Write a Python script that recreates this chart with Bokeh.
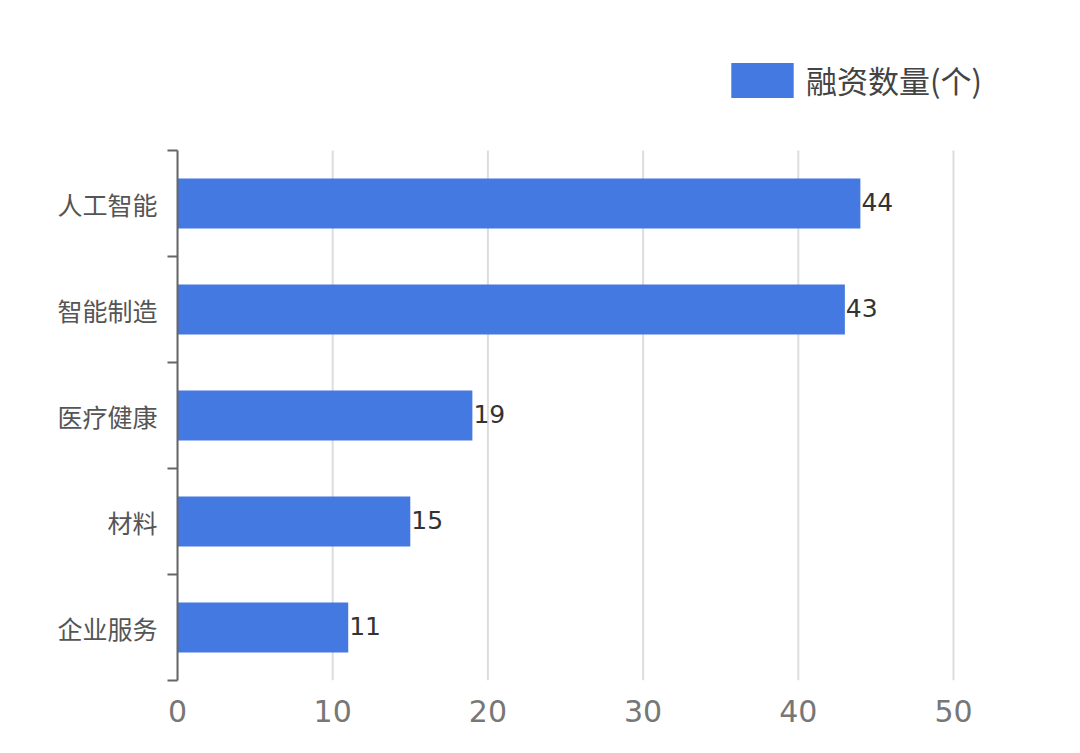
from bokeh.plotting import figure
from bokeh.models import ColumnDataSource, Range1d, FixedTicker, Legend, LegendItem, LabelSet
from bokeh.core.properties import value
from bokeh.embed import file_html
from bokeh.resources import INLINE

categories = ["人工智能", "智能制造", "医疗健康", "材料", "企业服务"]
values = [44, 43, 19, 15, 11]
x_ticks = [0, 10, 20, 30, 40, 50]
series_name = "融资数量(个)"

BAR = "#4479E1"
CJK = "Noto Sans CJK SC"
NUM = "DejaVu Sans"

W, H = 1064, 737
LEFT, TOP, BOTTOM = 177, 44, 57
AXIS_RIGHT_PX = 953          # pixel where x = 50 sits
FRAME_RIGHT_PX = 1050        # frame extended so the legend is not clipped

n = len(categories)
centers = [i + 0.5 for i in range(n)]
bounds = [float(i) for i in range(n + 1)]
x_max = x_ticks[-1]
x_end = x_max * (FRAME_RIGHT_PX - LEFT) / (AXIS_RIGHT_PX - LEFT)

src = ColumnDataSource(dict(cat=categories, y=centers, v=values,
                            lbl=[str(v) for v in values]))
grid_src = ColumnDataSource(dict(x=x_ticks, y0=[0] * len(x_ticks), y1=[n] * len(x_ticks)))

p = figure(width=W, height=H, output_backend="svg", toolbar_location=None,
           x_range=Range1d(0, x_end), y_range=Range1d(n, -1),
           min_border_left=LEFT, min_border_right=W - FRAME_RIGHT_PX,
           min_border_top=TOP, min_border_bottom=BOTTOM)
p.outline_line_color = None
p.background_fill_color = "white"
p.border_fill_color = "white"
p.xgrid.grid_line_color = None
p.ygrid.grid_line_color = None

# vertical grid lines limited to the category band
p.segment(x0="x", x1="x", y0="y0", y1="y1", source=grid_src,
          line_color="#dddddd", line_width=2)

r = p.hbar(y="y", right="v", left=0, height=0.47, source=src,
           fill_color=BAR, line_color=None)

labels = LabelSet(x="v", y="y", text="lbl", source=src, x_offset=1, y_offset=2,
                  text_baseline="middle", text_align="left",
                  text_font_size="25px", text_color="#333333", text_font=value(NUM))
p.add_layout(labels)

# x axis
p.xaxis.ticker = FixedTicker(ticks=x_ticks)
p.xaxis.axis_line_color = None
p.xaxis.major_tick_line_color = None
p.xaxis.minor_tick_line_color = None
p.xaxis.major_label_text_font_size = "30px"
p.xaxis.major_label_text_color = "#777777"
p.xaxis.major_label_text_font = NUM
p.xaxis.major_label_standoff = 13

# y axis
p.yaxis.bounds = (0, n)
p.yaxis.ticker = FixedTicker(ticks=centers, minor_ticks=bounds)
p.yaxis.major_label_overrides = {c: categories[i] for i, c in enumerate(centers)}
p.yaxis.axis_line_color = "#666666"
p.yaxis.axis_line_width = 2
p.yaxis.major_tick_line_color = None
p.yaxis.major_tick_out = 0
p.yaxis.major_tick_in = 0
p.yaxis.minor_tick_line_color = "#666666"
p.yaxis.minor_tick_line_width = 2
p.yaxis.minor_tick_out = 10
p.yaxis.minor_tick_in = 0
p.yaxis.major_label_standoff = 10
p.yaxis.major_label_text_font_size = "25px"
p.yaxis.major_label_text_color = "#555555"
p.yaxis.major_label_text_font = CJK

# legend glyph is drawn at 80% of its box, so size the box accordingly
GW, GH = 78, 44
legend = Legend(items=[LegendItem(label=series_name, renderers=[r])],
                location=(731 - 8 - LEFT, (H - BOTTOM) - 102), orientation="horizontal",
                glyph_width=GW, glyph_height=GH, label_standoff=5,
                label_text_font_size="31px", label_text_color="#444444",
                label_text_font=CJK, padding=0, margin=0, spacing=0,
                border_line_color=None, background_fill_alpha=0)
p.add_layout(legend)

open("out.html", "w").write(file_html(p, INLINE))
